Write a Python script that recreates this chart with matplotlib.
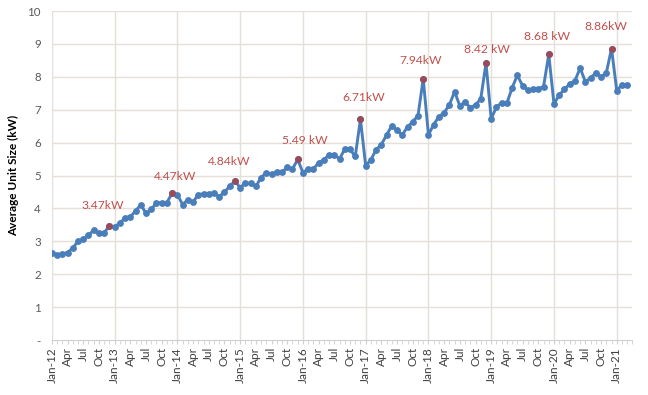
import matplotlib.pyplot as plt
from matplotlib.ticker import FixedLocator

plt.rcParams['font.family'] = ['Lato', 'DejaVu Sans']

# Monthly average unit size (kW), Jan-12 .. Mar-21
y2012 = [2.65, 2.60, 2.62, 2.66, 2.80, 3.00, 3.07, 3.18, 3.35, 3.24, 3.26, 3.47]
y2013 = [3.45, 3.55, 3.72, 3.75, 3.92, 4.12, 3.85, 3.97, 4.17, 4.18, 4.18, 4.47]
y2014 = [4.42, 4.12, 4.27, 4.20, 4.42, 4.45, 4.45, 4.48, 4.36, 4.50, 4.67, 4.84]
y2015 = [4.63, 4.78, 4.76, 4.67, 4.94, 5.09, 5.05, 5.10, 5.10, 5.25, 5.20, 5.49]
y2016 = [5.09, 5.20, 5.20, 5.39, 5.48, 5.63, 5.63, 5.51, 5.80, 5.80, 5.58, 6.71]
y2017 = [5.30, 5.48, 5.79, 5.94, 6.24, 6.51, 6.37, 6.24, 6.48, 6.64, 6.82, 7.94]
y2018 = [6.24, 6.55, 6.79, 6.91, 7.15, 7.55, 7.12, 7.24, 7.06, 7.15, 7.33, 8.42]
y2019 = [6.72, 7.09, 7.21, 7.20, 7.67, 8.05, 7.73, 7.60, 7.62, 7.64, 7.70, 8.68]
y2020 = [7.18, 7.45, 7.62, 7.79, 7.88, 8.27, 7.85, 7.97, 8.12, 8.00, 8.12, 8.86]
y2021 = [7.58, 7.76, 7.76]
values = y2012 + y2013 + y2014 + y2015 + y2016 + y2017 + y2018 + y2019 + y2020 + y2021

years = ['12', '13', '14', '15', '16', '17', '18', '19', '20', '21']
peak_labels = ['3.47kW', '4.47kW', '4.84kW', '5.49 kW', '6.71kW',
               '7.94kW', '8.42 kW', '8.68 kW', '8.86kW']

# label offsets (points) relative to each December peak
peak_offsets = [(-5, 11), (2, 8), (-4, 10), (5, 10), (2, 12),
                (-2, 9), (1, 6), (-1, 9), (-4, 12)]

blue = '#4a7ebb'
red = '#c0504d'
grid = '#e4e0d8'
txt = '#595959'

fig = plt.figure(figsize=(6.48, 3.95), dpi=100)
ax = fig.add_axes([0.080, 0.139, 0.896, 0.833])

x = list(range(len(values)))
ax.plot(x, values, color=blue, lw=2.1, marker='o', ms=3.9,
        markerfacecolor=blue, markeredgecolor=blue, zorder=3)

peaks = [11 + 12 * i for i in range(len(peak_labels))]
ax.plot(peaks, [values[p] for p in peaks], 'o', ms=3.9, color='#9b4a5a', zorder=4)
for p, lab, off in zip(peaks, peak_labels, peak_offsets):
    ax.annotate(lab, (p, values[p]), xytext=off, textcoords='offset points',
                ha='center', va='bottom', fontsize=8.7, color=red)

ax.set_xlim(0, 111)
ax.set_ylim(0, 10)

ax.set_yticks(range(0, 11))
ax.set_yticklabels(['-'] + [str(i) for i in range(1, 11)])
ax.tick_params(axis='y', length=0, labelsize=8.3, labelcolor=txt, pad=8)

# x ticks every 3 months, gridlines at each January
tick_pos = list(range(0, len(values), 3))
months = ['Jan', 'Apr', 'Jul', 'Oct']
tick_lab = []
for t in tick_pos:
    m = months[(t % 12) // 3]
    tick_lab.append(f'Jan-{years[t // 12]}' if m == 'Jan' else m)
ax.set_xticks(tick_pos)
ax.set_xticklabels(tick_lab, rotation=90, fontsize=8.5, color='#404040')
ax.xaxis.set_minor_locator(FixedLocator(range(0, 112)))
ax.tick_params(axis='x', which='both', length=3, color='#d0d0d0', direction='out')
ax.tick_params(axis='x', which='major', pad=2)

for v in range(1, 11):
    ax.axhline(v, color=grid, lw=1, zorder=0)
for jan in range(0, 112, 12):
    ax.axvline(jan, color=grid, lw=1, zorder=0)

for s in ['top', 'right', 'left']:
    ax.spines[s].set_visible(False)
ax.spines['bottom'].set_color('#d0d0d0')

ax.set_ylabel('Average Unit Size (kW)', fontsize=8.5, fontweight='bold', labelpad=6)

fig.savefig('out.png', dpi=100)
